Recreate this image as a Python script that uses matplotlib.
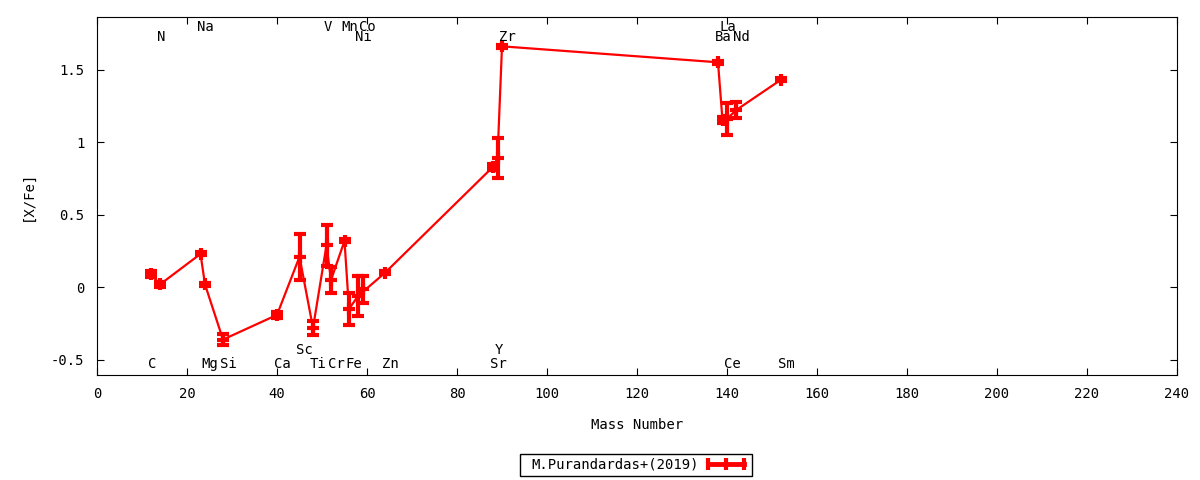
import matplotlib
matplotlib.use("Agg")
from matplotlib import pyplot as plt
from matplotlib.lines import Line2D

elements = ["C", "N", "Na", "Mg", "Si", "Ca", "Sc", "Ti", "V", "Cr", "Mn", "Fe",
            "Co", "Ni", "Zn", "Sr", "Y", "Zr", "Ba", "La", "Ce", "Nd", "Sm"]
mass = [12, 14, 23, 24, 28, 40, 45, 48, 51, 52, 55, 56,
        59, 58, 64, 88, 89, 90, 138, 139, 140, 142, 152]
xfe = [0.09, 0.02, 0.23, 0.02, -0.36, -0.19, 0.21, -0.28, 0.29, 0.05, 0.32, -0.15,
       -0.015, -0.06, 0.10, 0.83, 0.89, 1.66, 1.55, 1.15, 1.16, 1.22, 1.43]
err = [0.02, 0.02, 0.01, 0.01, 0.04, 0.02, 0.16, 0.05, 0.14, 0.09, 0.01, 0.11,
       0.095, 0.135, 0.01, 0.02, 0.14, 0.01, 0.01, 0.02, 0.11, 0.055, 0.01]
# label row: 0 = top, 1 = second from top, 2 = bottom, 3 = just above bottom
label_row = [2, 1, 0, 2, 2, 2, 3, 2, 0, 2, 0, 2,
             0, 1, 2, 2, 3, 1, 1, 0, 2, 1, 2]
series_name = "M.Purandardas+(2019)"

plt.rcParams['font.family'] = ['DejaVu Sans Mono']
plt.rcParams['font.size'] = 10

fig = plt.figure(figsize=(12, 4.8), dpi=100)
ax = fig.add_axes([97/1200, 1-375/480, 1080/1200, 358/480])

ax.errorbar(mass, xfe, yerr=err, color="red", lw=1.6, marker="+", ms=8, mew=3,
            elinewidth=3, capsize=4, capthick=3)

row_y = [1.795, 1.725, -0.525, -0.43]
for el, m, r in zip(elements, mass, label_row):
    ax.text(m - 0.7, row_y[r], el, ha="left", va="center")

ax.set_xlim(0, 240)
ax.set_ylim(-0.604, 1.862)
ax.set_xticks(range(0, 241, 20))
ax.set_yticks([-0.5, 0, 0.5, 1, 1.5])
ax.set_yticklabels(["-0.5", "0", "0.5", "1", "1.5"])
ax.tick_params(direction="in", top=True, right=True, length=5, pad=9)
ax.set_xlabel("Mass Number", labelpad=12)
ax.set_ylabel("[X/Fe]", labelpad=12)

# gnuplot style key sample: horizontal bar with three ticks
handle = Line2D([], [], color="red", lw=3.5, marker="|", ms=9, mew=3)
leg = ax.legend([handle], [series_name], loc="center",
                bbox_to_anchor=(636/1200, 1-465/480), bbox_transform=fig.transFigure,
                fancybox=False, framealpha=1, edgecolor="black", markerfirst=False,
                numpoints=3, handlelength=3.2, borderpad=0.3, borderaxespad=0,
                handletextpad=0.9)
leg.get_frame().set_linewidth(1)
for t in leg.get_texts():
    t.set_x(8)

fig.savefig("out.png", dpi=100)
